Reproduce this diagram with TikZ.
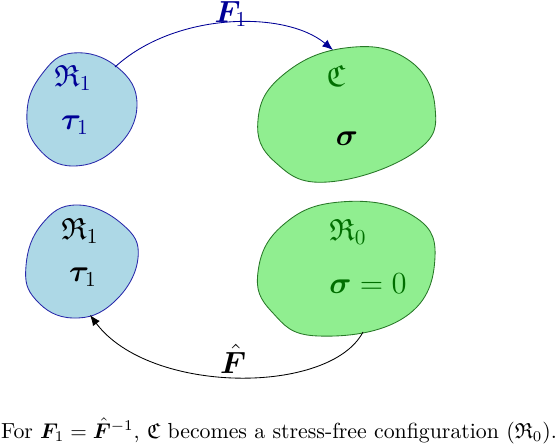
\documentclass[tikz,border=0pt]{standalone}
\usepackage{amsmath,amssymb,bm}
\usetikzlibrary{arrows.meta}
\definecolor{lblue}{RGB}{173,216,230}
\definecolor{lgreen}{RGB}{144,238,144}
\definecolor{navyc}{RGB}{0,0,150}
\definecolor{dgreen}{RGB}{0,110,0}
\definecolor{bblue}{RGB}{40,40,170}
\definecolor{bgreen}{RGB}{40,120,40}
\tikzset{
  blueblob/.style={fill=lblue,draw=bblue,line width=0.4pt},
  greenblob/.style={fill=lgreen,draw=bgreen,line width=0.4pt},
  lbl/.style={font=\Large,inner sep=1pt},
  maparrow/.style={-{Latex[length=5pt,width=4pt]},line width=0.4pt}
}
\begin{document}
\begin{tikzpicture}[x=0.47pt,y=-0.47pt]
\useasboundingbox (0,0) rectangle (559,448);
% top-left blob
\draw[blueblob] plot[smooth cycle,tension=0.75] coordinates
 {(73,53) (117,67) (137,105) (116,148) (73,166) (38,148) (27,112) (42,74)};
% top-right blob
\draw[greenblob] plot[smooth cycle,tension=0.75] coordinates
 {(345,48) (407,59) (435,107) (415,152) (328,182) (275,162) (258,120) (283,75)};
% bottom-left blob
\draw[blueblob] plot[smooth cycle,tension=0.75] coordinates
 {(77,205) (122,224) (138,258) (114,302) (73,318) (36,300) (26,266) (42,224)};
% bottom-right blob
\draw[greenblob] plot[smooth cycle,tension=0.75] coordinates
 {(340,202) (410,214) (435,257) (405,317) (318,336) (272,312) (258,272) (283,225)};

\coordinate (aout) at (115,67);
\coordinate (cin) at (333,50);
\coordinate (rout) at (363,332);
\coordinate (bin) at (90,315);

\node[lbl,text=navyc] (r1a) at (73,78) {$\mathfrak{R}_1$};
\node[lbl,text=navyc] (t1a) at (75,125) {$\bm{\tau}_1$};
\node[lbl,text=dgreen] (cc) at (336,76) {$\mathfrak{C}$};
\node[lbl] (sg) at (347,139) {$\bm{\sigma}$};
\node[lbl] (r1b) at (80,231) {$\mathfrak{R}_1$};
\node[lbl] (t1b) at (83,277) {$\bm{\tau}_1$};
\node[lbl,text=dgreen] (r0) at (348,232) {$\mathfrak{R}_0$};
\node[lbl,text=dgreen] (sz) at (368,284) {$\bm{\sigma}=0$};

\draw[maparrow,draw=navyc] (aout) .. controls (175,12) and (285,10) .. (cin);
\node[lbl,text=navyc] (f1) at (231,14) {$\bm{F}_1$};
\draw[maparrow] (rout) .. controls (330,395) and (150,395) .. (bin);
\node[lbl] (fh) at (233,359) {$\hat{\bm{F}}$};

\node[font=\fontsize{10.25}{12.5}\selectfont] (cap) at (279,431) {For $\bm{F}_1={\hat{\bm{F}}}^{-1}$, $\mathfrak{C}$ becomes a stress-free configuration ($\mathfrak{R}_0$).};
\end{tikzpicture}
\end{document}
